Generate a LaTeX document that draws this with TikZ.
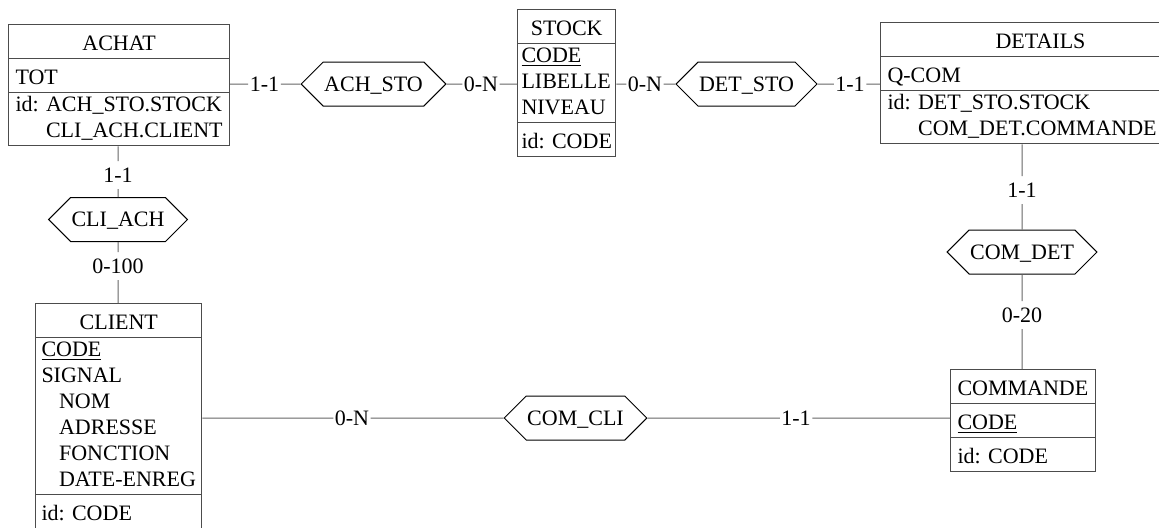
\documentclass[tikz,border=0pt]{standalone}
\usepackage{fontspec}
\setmainfont{Liberation Serif}
\usetikzlibrary{shapes.multipart,shapes.symbols}
\newcommand\idpad{\hphantom{id: }}
\newcommand\subatt{\hspace*{8.8pt}}
\tikzset{
  entity/.style={rectangle split, rectangle split parts=3, draw=black!70, line width=0.5pt,
    rectangle split part align={center,left,left}, align=left,
    inner xsep=3.5pt, inner ysep=1.75pt, anchor=north west,
    font=\fontsize{11}{13}\selectfont,
    execute at begin node=\rule{0pt}{11pt}, execute at end node=\rule[-2pt]{0pt}{2pt}},
  rel/.style={signal, signal to=west and east, signal pointer angle=90, draw, line width=0.5pt,
    minimum height=22pt, inner xsep=0.5pt, inner ysep=0pt, text height=7.3pt, text depth=0pt,
    font=\fontsize{11}{13}\selectfont},
  card/.style={inner xsep=0.6pt, inner ysep=0.8pt, text height=9.5pt, text depth=2.5pt,
    font=\fontsize{11}{13}\selectfont},
  link/.style={draw=black!60, line width=0.5pt}
}
\begin{document}
\begin{tikzpicture}[x=0.5pt,y=-0.5pt]
\useasboundingbox (0,0) rectangle (1159,527);
% entities
\node[entity, minimum width=110pt] (achat) at (8,24)
  {ACHAT\nodepart{two}TOT\nodepart{three}id: ACH\_STO.STOCK\\\idpad CLI\_ACH.CLIENT};
\node[entity, minimum width=48pt, inner xsep=2pt] (stock) at (517,9)
  {STOCK\nodepart{two}\underline{CODE}\\LIBELLE\\NIVEAU\nodepart{three}id: CODE};
\node[entity, minimum width=160pt] (details) at (880,22)
  {DETAILS\nodepart{two}Q-COM\nodepart{three}id: DET\_STO.STOCK\\\idpad COM\_DET.COMMANDE};
\node[entity, minimum width=82pt, inner xsep=3pt] (client) at (35,303)
  {CLIENT\nodepart{two}\underline{CODE}\\SIGNAL\\\subatt NOM\\\subatt ADRESSE\\\subatt FONCTION\\\subatt DATE-ENREG\nodepart{three}id: CODE};
\node[entity, minimum width=72pt] (commande) at (950,369)
  {COMMANDE\nodepart{two}\underline{CODE}\nodepart{three}id: CODE};
% relationships
\node[rel] (achsto) at (373.5,84) {ACH\_STO};
\node[rel] (detsto) at (746.5,84) {DET\_STO};
\node[rel] (cliach) at (118,219.5) {CLI\_ACH};
\node[rel] (comdet) at (1022,252) {COM\_DET};
\node[rel] (comcli) at (575.5,418) {COM\_CLI};
% cardinalities
\node[card] (c1) at (264.5,84) {1-1};
\node[card] (c2) at (481,84) {0-N};
\node[card] (c3) at (645,84) {0-N};
\node[card] (c4) at (850,84) {1-1};
\node[card] (c5) at (118,175) {1-1};
\node[card] (c6) at (118,266) {0-100};
\node[card] (c7) at (1022,190) {1-1};
\node[card] (c8) at (1022,315) {0-20};
\node[card] (c9) at (352,418) {0-N};
\node[card] (c10) at (796,418) {1-1};
\draw[link] (achat.east |- achsto) -- (c1) -- (achsto) -- (c2) -- (stock.west |- achsto);
\draw[link] (stock.east |- detsto) -- (c3) -- (detsto) -- (c4) -- (details.west |- detsto);
\draw[link] (achat.south -| cliach) -- (c5) -- (cliach) -- (c6) -- (client.north -| cliach);
\draw[link] (details.south -| comdet) -- (c7) -- (comdet) -- (c8) -- (commande.north -| comdet);
\draw[link] (client.east |- comcli) -- (c9) -- (comcli) -- (c10) -- (commande.west |- comcli);
\end{tikzpicture}
\end{document}
